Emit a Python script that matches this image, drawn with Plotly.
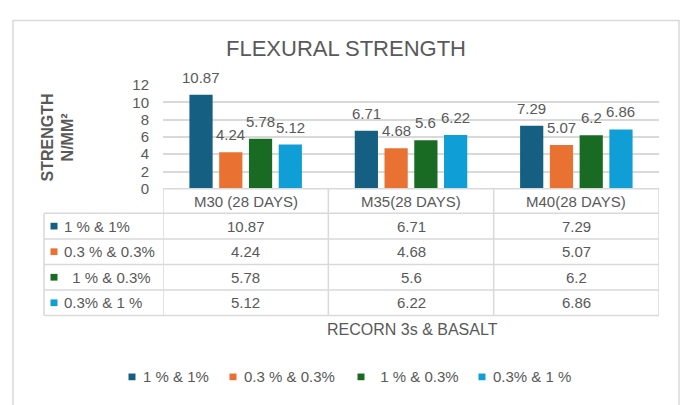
import plotly.graph_objects as go

# ---- data ----
categories = ["M30 (28 DAYS)", "M35(28 DAYS)", "M40(28 DAYS)"]
series_names = ["1 % & 1%", "0.3 % & 0.3%", "\u00a0\u00a01 % & 0.3%", "0.3% & 1 %"]
s1 = [10.87, 6.71, 7.29]
s2 = [4.24, 4.68, 5.07]
s3 = [5.78, 5.6, 6.2]
s4 = [5.12, 6.22, 6.86]
series_values = [s1, s2, s3, s4]
y_ticks = [0, 2, 4, 6, 8, 10, 12]
title_text = "FLEXURAL STRENGTH"
y_title = "STRENGTH<br>N/MM²"
x_title = "RECORN 3s & BASALT"

# ---- style ----
colors = ["#156082", "#E97132", "#196B24", "#0F9ED5"]
W, H = 683, 405
TXT = "#595959"
GRID = "#D9D9D9"
FONT = "Liberation Sans, Arial, sans-serif"
BARGAP = 0.28
GROUPGAP = 0.22


def px(x):
    return x / W


def py(y):
    return 1 - y / H


plot_left, plot_right = 163, 659
plot_top, plot_bottom = 79.3, 187.7
table_left = 44
row_lines = [213.3, 240.0, 266.7, 293.3, 320.0]

fig = go.Figure()
for name, vals, col in zip(series_names, series_values, colors):
    fig.add_trace(go.Bar(x=categories, y=vals, name=name, marker_color=col,
                         marker_line_width=0, showlegend=False, hoverinfo="skip"))

annotations = []
shapes = []


def txt(x, y, text, size=15, xref="paper", yref="paper", xanchor="center", yanchor="middle", **kw):
    annotations.append(dict(x=x, y=y, xref=xref, yref=yref, text=text, showarrow=False,
                            xanchor=xanchor, yanchor=yanchor,
                            font=dict(size=size, color=TXT, family=FONT, **kw.pop("font", {})), **kw))


# data labels above bars
slot = (1 - BARGAP) / len(series_values)
for si, vals in enumerate(series_values):
    for ci, v in enumerate(vals):
        txt(ci + (si - (len(series_values) - 1) / 2) * slot, v, str(v), xref="x", yref="y",
            yanchor="bottom", yshift=7)

txt(px(346), py(41), title_text, size=22)
txt(px(58), py(134), y_title, size=16, textangle=-90, font=dict(weight="bold"))
txt(px(412), py(335), x_title, size=16)

# ---- data table ----
line = dict(color=GRID, width=1.5)
for i in range(len(categories) + 1):
    shapes.append(dict(type="line", xref="x", yref="paper", x0=i - 0.5, x1=i - 0.5,
                       y0=py(plot_bottom), y1=py(row_lines[-1]), line=line))
shapes.append(dict(type="line", xref="paper", yref="paper", x0=px(table_left), x1=px(table_left),
                   y0=py(row_lines[0]), y1=py(row_lines[-1]), line=line))
shapes.append(dict(type="line", xref="paper", yref="paper", x0=px(plot_left), x1=px(plot_right),
                   y0=py(plot_bottom), y1=py(plot_bottom), line=line))
for r in row_lines:
    shapes.append(dict(type="line", xref="paper", yref="paper", x0=px(table_left), x1=px(plot_right),
                       y0=py(r), y1=py(r), line=line))
for ci, c in enumerate(categories):
    txt(ci, py((plot_bottom + row_lines[0]) / 2), c, xref="x")
for si, (name, vals, col) in enumerate(zip(series_names, series_values, colors)):
    yc = (row_lines[si] + row_lines[si + 1]) / 2
    shapes.append(dict(type="rect", xref="paper", yref="paper", x0=px(50.5), x1=px(57.5),
                       y0=py(yc - 3.5), y1=py(yc + 3.5), fillcolor=col, line=dict(width=0)))
    txt(px(62), py(yc), name, xanchor="left")
    for ci, v in enumerate(vals):
        txt(ci, py(yc), str(v), xref="x")

# ---- bottom legend ----
legend_x = [128.5, 229.5, 357.5, 478.5]
legend_y = 384
for name, col, lx in zip(series_names, colors, legend_x):
    shapes.append(dict(type="rect", xref="paper", yref="paper", x0=px(lx), x1=px(lx + 7),
                       y0=py(legend_y - 3.5), y1=py(legend_y + 3.5), fillcolor=col, line=dict(width=0)))
    txt(px(lx + 12), py(legend_y), name, xanchor="left")

# outer border
shapes.append(dict(type="rect", xref="paper", yref="paper", x0=px(13), x1=px(679),
                   y0=py(420), y1=py(12), line=dict(color=GRID, width=1.5), layer="below"))

fig.update_layout(
    width=W, height=H,
    margin=dict(l=0, r=0, t=0, b=0),
    paper_bgcolor="white", plot_bgcolor="white",
    barmode="group", bargap=BARGAP, bargroupgap=GROUPGAP,
    font=dict(family=FONT, color=TXT),
    showlegend=False, hovermode=False,
    xaxis=dict(domain=[px(plot_left), px(plot_right)], range=[-0.5, len(categories) - 0.5],
               showticklabels=False, showgrid=False, zeroline=False, showline=False, ticks="",
               fixedrange=True),
    yaxis=dict(domain=[py(plot_bottom), py(plot_top)], range=[0, 12], tickvals=y_ticks,
               showgrid=True, gridcolor=GRID, gridwidth=1.5, zeroline=False, showline=False,
               ticks="", ticklabelstandoff=13, fixedrange=True,
               tickfont=dict(size=15, color=TXT, family=FONT)),
    annotations=annotations,
    shapes=shapes,
)

page_css = ("document.documentElement.style.margin='0';document.documentElement.style.padding='0';"
            "document.documentElement.style.overflow='hidden';"
            "document.body.style.margin='0';document.body.style.padding='0';"
            "document.body.style.overflow='hidden';")
fig.write_html("out.html", post_script=page_css, config={"displayModeBar": False})
